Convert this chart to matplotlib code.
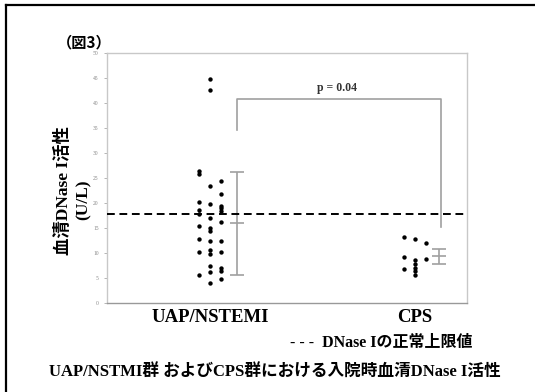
import matplotlib.pyplot as plt

# 血清DNase I活性 (U/L)
groups = ['UAP/NSTEMI', 'CPS']

uap_values = [26.3, 25.8, 20.1, 18.5, 17.7, 15.4, 12.7, 10.1, 5.7,
              44.7, 42.5, 23.4, 19.7, 16.9, 14.9, 14.3, 12.3, 10.5, 9.8, 7.4, 6.3, 4.1,
              24.3, 21.7, 19.3, 18.9, 18.3, 16.1, 12.3, 10.1, 7.1, 6.5, 4.9]
uap_cols = [-1] * 9 + [0] * 13 + [1] * 11

cps_values = [13.1, 9.1, 6.9,
              12.7, 8.6, 7.9, 7.1, 6.5, 5.7,
              11.9, 8.8]
cps_cols = [-1] * 3 + [0] * 6 + [1] * 2

# mean and error half-widths
group_mean = [15.9, 9.3]
group_err = [10.3, 1.5]

upper_limit = 17.8
p_text = 'p = 0.04'
bracket_left = [34.6, 40.7]   # left leg from/to
bracket_right = 15.1          # right leg bottom

yticks = list(range(0, 51, 5))

serif_jp = ['Liberation Serif', 'Noto Sans CJK JP']
gothic_jp = ['Noto Sans CJK JP', 'DejaVu Sans']

fig = plt.figure(figsize=(5.35, 3.92), dpi=100)
ax = fig.add_axes([0.2, 0.227, 0.673, 0.638])

col_w = 0.052
err_dx = [0.132, 0.117]
pos = [1, 2]

ax.scatter([pos[0] + c * col_w for c in uap_cols], uap_values, s=10, color='black',
           linewidths=0, zorder=3)
ax.scatter([pos[1] + c * col_w for c in cps_cols], cps_values, s=10, color='black',
           linewidths=0, zorder=3)

for i in range(2):
    ax.errorbar(pos[i] + err_dx[i], group_mean[i], yerr=group_err[i], fmt='_',
                color='#a0a0a0', ecolor='#a0a0a0', elinewidth=1.2, capsize=5,
                capthick=1.2, markersize=10, markeredgewidth=1.2, zorder=2)

# significance bracket
xl = pos[0] + err_dx[0]
xr = pos[1] + 0.127
ax.plot([xl, xl, xr, xr], [bracket_left[0], bracket_left[1], bracket_left[1], bracket_right],
        color='#a0a0a0', lw=1.2, zorder=2)
ax.text(1.62, bracket_left[1] + 1.0, p_text, ha='center', va='bottom',
        fontsize=8.5, fontweight='bold', family=serif_jp, color='#333333')

ax.axhline(upper_limit, color='black', lw=1.4, ls=(0, (4, 2.4)), zorder=4)

ax.set_xlim(0.498, 2.254)
ax.set_ylim(0, 50)
ax.set_yticks(yticks)
ax.set_yticklabels([str(t) for t in yticks], fontsize=4, color='#888888', family=serif_jp)
ax.tick_params(axis='y', length=2, width=0.6, color='#aaaaaa', pad=4)
ax.set_xticks(pos)
ax.set_xticklabels(groups, fontsize=13.5, fontweight='bold', family=serif_jp)
ax.tick_params(axis='x', length=0, pad=4)
for side in ['left', 'top', 'right']:
    ax.spines[side].set_color('#c8c8c8')
    ax.spines[side].set_linewidth(1.0)
ax.spines['bottom'].set_color('#999999')
ax.spines['bottom'].set_linewidth(1.0)

# y axis title, two lines
fig.text(0.118, 0.513, '血清DNase I活性', rotation=90, fontsize=12.5, fontweight='bold',
         family=serif_jp, ha='center', va='center')
fig.text(0.157, 0.49, '(U/L)', rotation=90, fontsize=12.5, fontweight='bold',
         family=serif_jp, ha='center', va='center')

fig.text(0.158, 0.892, '（図3）', fontsize=11, fontweight='bold', family=gothic_jp,
         ha='center', va='center')
fig.text(0.713, 0.125, '- - -  DNase Iの正常上限値', fontsize=11.5, fontweight='bold',
         family=serif_jp, ha='center', va='center')
fig.text(0.514, 0.051, 'UAP/NSTMI群 およびCPS群における入院時血清DNase I活性', fontsize=12,
         fontweight='bold', family=serif_jp, ha='center', va='center')

# frame lines at top and left
fig.add_artist(plt.Line2D([0.0112, 1.0], [0.987, 0.987], transform=fig.transFigure,
                          color='black', lw=1.6))
fig.add_artist(plt.Line2D([0.0112, 0.0112], [0.0, 0.987], transform=fig.transFigure,
                          color='black', lw=1.6))

fig.savefig('out.png', dpi=100)
